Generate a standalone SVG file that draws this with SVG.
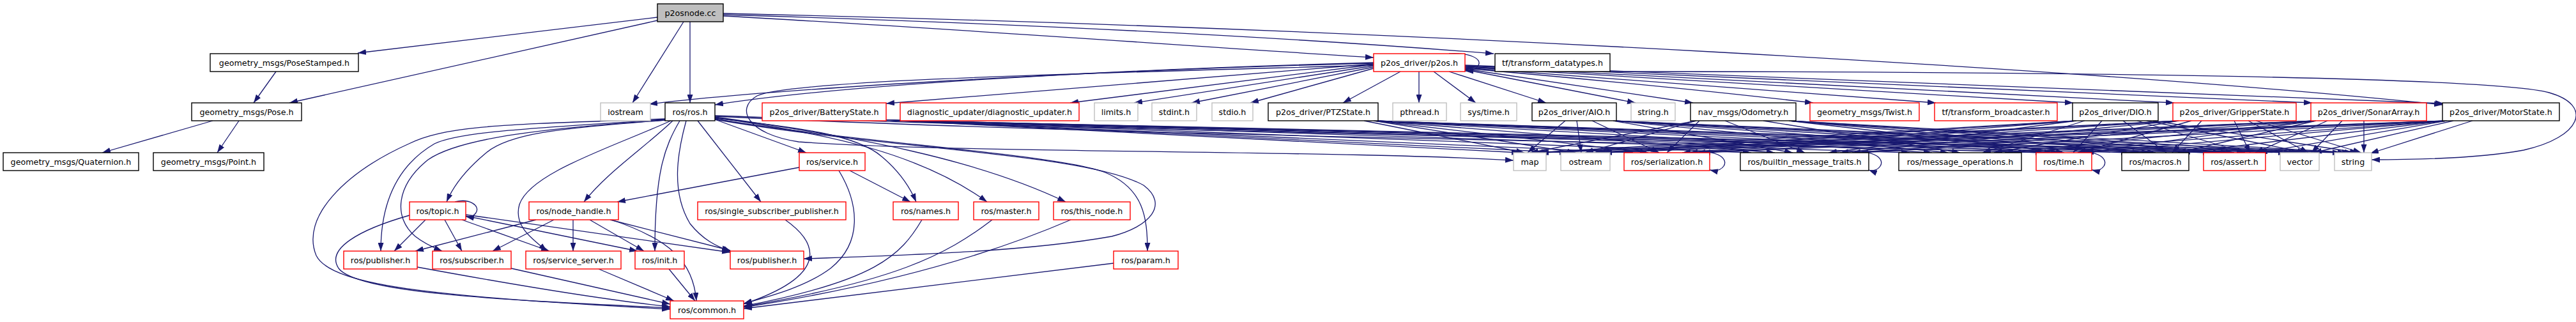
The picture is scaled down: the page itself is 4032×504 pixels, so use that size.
<svg xmlns="http://www.w3.org/2000/svg" width="4032" height="504" viewBox="0 0 4032 504">
<style>
.e{fill:none;stroke:#191970;stroke-width:1.3;marker-end:url(#a)}
.n rect{fill:#fff;stroke-width:1.4}
.k rect{stroke:#000}
.r rect{stroke:#ff0000}
.g rect{stroke:#bfbfbf}
text{font-family:"DejaVu Sans","Liberation Sans",sans-serif;font-size:12.7px;fill:#000;text-anchor:middle}
</style>
<defs>
<marker id="a" viewBox="0 0 13 9" refX="13" refY="4.5" markerWidth="13" markerHeight="9" markerUnits="userSpaceOnUse" orient="auto">
<path d="M0,0 L13,4.5 L0,9 z" fill="#191970"/>
</marker>
</defs>
<rect width="4032" height="504" fill="#fff"/>
<g id="edges">
<path class="e" d="M1029,27 L560,83"/>
<path class="e" d="M1029,32 L453,161"/>
<path class="e" d="M1070,34 L990,161"/>
<path class="e" d="M1080,34 L1080,161"/>
<path class="e" d="M1132,25 C1500,45 1900,75 2150,90"/>
<path class="e" d="M1132,23 C1700,40 2100,65 2338,84"/>
<path class="e" d="M1132,21 C2200,45 3300,110 3823,164"/>
<path class="e" d="M2520,112 C3200,112 3900,120 3990,145 C4060,165 4040,215 3950,235 C3880,248 3780,250 3712,250"/>
<path class="e" d="M432,112 L397,161"/>
<path class="e" d="M333,189 L160,239"/>
<path class="e" d="M374,189 L340,239"/>
<path class="e" d="M2268,84 C2300,82 2320,92 2314,102 C2310,110 2302,111 2293,111"/>
<path class="e" d="M2192,112 L2102,161"/>
<path class="e" d="M2221,112 L2221,161"/>
<path class="e" d="M2244,112 L2310,161"/>
<path class="e" d="M2268,112 L2420,161"/>
<path class="e" d="M2293,109 L2560,161"/>
<path class="e" d="M2293,108 L2650,161"/>
<path class="e" d="M2293,107 C2500,125 2700,145 2838,161"/>
<path class="e" d="M2293,106 L3030,161"/>
<path class="e" d="M2293,105 L3245,161"/>
<path class="e" d="M2293,104 L3403,161"/>
<path class="e" d="M2293,103 L3619,161"/>
<path class="e" d="M2293,102 L3825,162"/>
<path class="e" d="M2150,100 L1387,162"/>
<path class="e" d="M2150,101 L1675,161"/>
<path class="e" d="M2150,103 L1775,161"/>
<path class="e" d="M2150,105 L1865,161"/>
<path class="e" d="M2150,107 L1957,161"/>
<path class="e" d="M2150,98 C1700,110 1300,135 1119,164"/>
<path class="e" d="M2150,99 C1700,110 1200,140 1016,163"/>
<path class="e" d="M2150,102 C1700,115 1240,125 1185,150 C1150,170 1170,210 1250,222 C1500,240 2100,235 2369,251"/>
<path class="e" d="M1041,186 C800,195 700,195 640,225 C540,270 470,340 495,400 C520,450 700,465 1049,484"/>
<path class="e" d="M1041,187 C850,200 720,205 680,225 C620,260 596,320 596,393"/>
<path class="e" d="M1041,188 C860,200 720,215 670,250 C620,290 615,340 650,370 C665,382 680,388 692,393"/>
<path class="e" d="M1041,188 C900,200 800,205 760,240 C730,265 710,290 699,316"/>
<path class="e" d="M1053,189 C1010,230 950,270 914,316"/>
<path class="e" d="M1050,189 C960,230 830,270 813,320 C803,355 835,375 856,393"/>
<path class="e" d="M1064,189 C1040,230 1025,270 1025,393"/>
<path class="e" d="M1074,189 C1060,240 1050,300 1080,350 C1100,375 1120,385 1145,394"/>
<path class="e" d="M1092,189 L1191,316"/>
<path class="e" d="M1119,187 L1262,239"/>
<path class="e" d="M1119,185 C1250,200 1340,210 1380,245 C1410,270 1425,295 1434,316"/>
<path class="e" d="M1119,184 C1300,210 1440,240 1545,316"/>
<path class="e" d="M1119,183 C1350,215 1530,250 1668,316"/>
<path class="e" d="M1119,186 C1350,225 1650,240 1730,270 C1790,295 1796,340 1796,393"/>
<path class="e" d="M1119,187 C1400,235 1700,240 1790,290 C1830,320 1800,355 1740,370 C1600,395 1400,400 1258,405"/>
<path class="e" d="M1119,182 C1800,215 2800,225 3199,239"/>
<path class="e" d="M1119,181 C1900,210 3000,225 3461,239"/>
<path class="e" d="M712,316 C735,310 752,322 745,333 C740,340 735,340 729,339"/>
<path class="e" d="M666,344 L617,393"/>
<path class="e" d="M696,344 L723,393"/>
<path class="e" d="M723,344 L860,393"/>
<path class="e" d="M729,338 L998,393"/>
<path class="e" d="M729,336 L1143,395"/>
<path class="e" d="M641,337 C560,360 510,390 530,420 C560,460 800,470 1049,482"/>
<path class="e" d="M839,344 L650,393"/>
<path class="e" d="M867,344 L771,393"/>
<path class="e" d="M897,344 L897,393"/>
<path class="e" d="M923,344 L1008,393"/>
<path class="e" d="M955,344 L1143,392"/>
<path class="e" d="M957,344 C1050,375 1085,410 1090,471"/>
<path class="e" d="M1251,262 L966,316"/>
<path class="e" d="M1330,267 L1425,316"/>
<path class="e" d="M1313,267 C1345,320 1350,380 1300,420 C1260,450 1200,465 1164,475"/>
<path class="e" d="M1229,344 C1280,380 1300,430 1164,476"/>
<path class="e" d="M1443,344 C1410,400 1370,440 1164,479"/>
<path class="e" d="M1553,344 C1480,400 1400,440 1164,480"/>
<path class="e" d="M1676,344 C1500,420 1300,460 1164,481"/>
<path class="e" d="M1743,412 C1500,440 1300,465 1164,483"/>
<path class="e" d="M800,420 L1049,476"/>
<path class="e" d="M937,421 L1055,471"/>
<path class="e" d="M1047,421 L1088,471"/>
<path class="e" d="M653,418 C800,445 950,470 1049,480"/>
<path class="e" d="M2660,239 C2690,235 2705,250 2698,260 C2693,267 2685,268 2676,266"/>
<path class="e" d="M2905,239 C2935,235 2950,250 2943,260 C2938,267 2930,268 2925,266"/>
<path class="e" d="M3255,239 C3285,235 3300,250 3293,260 C3288,267 3282,268 3274,266"/>
<path class="e" d="M1387,188 L2379,239"/>
<path class="e" d="M1387,188 L2454,239"/>
<path class="e" d="M1387,188 L2556,239"/>
<path class="e" d="M1387,188 L2741,239"/>
<path class="e" d="M1387,188 L2989,239"/>
<path class="e" d="M1387,188 L3199,239"/>
<path class="e" d="M1387,188 L3333,239"/>
<path class="e" d="M1387,188 L3461,239"/>
<path class="e" d="M1387,188 L3579,239"/>
<path class="e" d="M1387,188 L3664,239"/>
<path class="e" d="M2135,189 L2386,239"/>
<path class="e" d="M2150,189 L2466,239"/>
<path class="e" d="M2150,189 L2580,239"/>
<path class="e" d="M2150,189 L2778,239"/>
<path class="e" d="M2150,189 L3024,239"/>
<path class="e" d="M2150,189 L3213,239"/>
<path class="e" d="M2150,189 L3351,239"/>
<path class="e" d="M2150,189 L3477,239"/>
<path class="e" d="M2150,189 L3588,239"/>
<path class="e" d="M2150,189 L3672,239"/>
<path class="e" d="M2450,189 L2391,239"/>
<path class="e" d="M2468,189 L2475,239"/>
<path class="e" d="M2492,189 L2597,239"/>
<path class="e" d="M2525,189 L2806,239"/>
<path class="e" d="M2525,189 L3050,239"/>
<path class="e" d="M2525,189 L3223,239"/>
<path class="e" d="M2525,189 L3365,239"/>
<path class="e" d="M2525,189 L3489,239"/>
<path class="e" d="M2525,189 L3595,239"/>
<path class="e" d="M2525,189 L3679,239"/>
<path class="e" d="M2655,189 L2395,239"/>
<path class="e" d="M2655,189 L2481,239"/>
<path class="e" d="M2660,189 L2609,239"/>
<path class="e" d="M2700,189 L2825,239"/>
<path class="e" d="M2760,189 L3068,239"/>
<path class="e" d="M2800,189 L3231,239"/>
<path class="e" d="M2800,189 L3374,239"/>
<path class="e" d="M2800,189 L3497,239"/>
<path class="e" d="M2800,189 L3600,239"/>
<path class="e" d="M2800,189 L3683,239"/>
<path class="e" d="M3250,189 L2402,239"/>
<path class="e" d="M3250,189 L2494,239"/>
<path class="e" d="M3250,189 L2633,239"/>
<path class="e" d="M3250,189 L2862,239"/>
<path class="e" d="M3263,189 L3103,239"/>
<path class="e" d="M3290,189 L3245,239"/>
<path class="e" d="M3323,189 L3391,239"/>
<path class="e" d="M3345,189 L3514,239"/>
<path class="e" d="M3360,189 L3609,239"/>
<path class="e" d="M3370,189 L3691,239"/>
<path class="e" d="M3410,189 L2405,239"/>
<path class="e" d="M3410,189 L2500,239"/>
<path class="e" d="M3410,189 L2644,239"/>
<path class="e" d="M3410,189 L2880,239"/>
<path class="e" d="M3410,189 L3121,239"/>
<path class="e" d="M3430,189 L3252,239"/>
<path class="e" d="M3446,189 L3400,239"/>
<path class="e" d="M3497,189 L3522,239"/>
<path class="e" d="M3519,189 L3613,239"/>
<path class="e" d="M3531,189 L3696,239"/>
<path class="e" d="M3625,189 L2409,239"/>
<path class="e" d="M3625,189 L2506,239"/>
<path class="e" d="M3625,189 L2656,239"/>
<path class="e" d="M3625,189 L2899,239"/>
<path class="e" d="M3625,189 L3138,239"/>
<path class="e" d="M3625,189 L3259,239"/>
<path class="e" d="M3625,189 L3409,239"/>
<path class="e" d="M3643,189 L3530,239"/>
<path class="e" d="M3666,189 L3618,239"/>
<path class="e" d="M3700,189 L3700,239"/>
<path class="e" d="M3830,189 L2411,239"/>
<path class="e" d="M3830,189 L2510,239"/>
<path class="e" d="M3830,189 L2664,239"/>
<path class="e" d="M3830,189 L2911,239"/>
<path class="e" d="M3830,189 L3151,239"/>
<path class="e" d="M3830,189 L3264,239"/>
<path class="e" d="M3830,189 L3415,239"/>
<path class="e" d="M3830,189 L3536,239"/>
<path class="e" d="M3840,189 L3621,239"/>
<path class="e" d="M3870,189 L3710,240"/>
</g>
<g id="n0" class="n k"><rect x="1029" y="6" width="103" height="28" style="fill:#bfbfbf"/><text x="1080.5" y="24.5">p2osnode.cc</text></g>
<g id="n1" class="n k"><rect x="329" y="84" width="232" height="28"/><text x="445" y="102.5">geometry_msgs/PoseStamped.h</text></g>
<g id="n2" class="n k"><rect x="300" y="161" width="172" height="28"/><text x="386" y="179.5">geometry_msgs/Pose.h</text></g>
<g id="n3" class="n k"><rect x="5" y="239" width="212" height="28"/><text x="111" y="257.5">geometry_msgs/Quaternion.h</text></g>
<g id="n4" class="n k"><rect x="240" y="239" width="173" height="28"/><text x="326.5" y="257.5">geometry_msgs/Point.h</text></g>
<g id="n5" class="n g"><rect x="940" y="161" width="78" height="28"/><text x="979" y="179.5">iostream</text></g>
<g id="n6" class="n k"><rect x="1041" y="161" width="78" height="28"/><text x="1080" y="179.5">ros/ros.h</text></g>
<g id="n7" class="n r"><rect x="2150" y="84" width="143" height="28"/><text x="2221.5" y="102.5">p2os_driver/p2os.h</text></g>
<g id="n8" class="n k"><rect x="2340" y="84" width="180" height="28"/><text x="2430" y="102.5">tf/transform_datatypes.h</text></g>
<g id="n9" class="n r"><rect x="1193" y="161" width="194" height="28"/><text x="1290" y="179.5">p2os_driver/BatteryState.h</text></g>
<g id="n10" class="n r"><rect x="1409" y="161" width="280" height="28"/><text x="1549" y="179.5">diagnostic_updater/diagnostic_updater.h</text></g>
<g id="n11" class="n g"><rect x="1713" y="161" width="68" height="28"/><text x="1747" y="179.5">limits.h</text></g>
<g id="n12" class="n g"><rect x="1803" y="161" width="70" height="28"/><text x="1838" y="179.5">stdint.h</text></g>
<g id="n13" class="n g"><rect x="1897" y="161" width="64" height="28"/><text x="1929" y="179.5">stdio.h</text></g>
<g id="n14" class="n k"><rect x="1985" y="161" width="172" height="28"/><text x="2071" y="179.5">p2os_driver/PTZState.h</text></g>
<g id="n15" class="n g"><rect x="2180" y="161" width="84" height="28"/><text x="2222" y="179.5">pthread.h</text></g>
<g id="n16" class="n g"><rect x="2286" y="161" width="88" height="28"/><text x="2330" y="179.5">sys/time.h</text></g>
<g id="n17" class="n k"><rect x="2398" y="161" width="132" height="28"/><text x="2464" y="179.5">p2os_driver/AIO.h</text></g>
<g id="n18" class="n g"><rect x="2553" y="161" width="69" height="28"/><text x="2587.5" y="179.5">string.h</text></g>
<g id="n19" class="n k"><rect x="2646" y="161" width="165" height="28"/><text x="2728.5" y="179.5">nav_msgs/Odometry.h</text></g>
<g id="n20" class="n r"><rect x="2833" y="161" width="171" height="28"/><text x="2918.5" y="179.5">geometry_msgs/Twist.h</text></g>
<g id="n21" class="n r"><rect x="3028" y="161" width="192" height="28"/><text x="3124" y="179.5">tf/transform_broadcaster.h</text></g>
<g id="n22" class="n k"><rect x="3244" y="161" width="134" height="28"/><text x="3311" y="179.5">p2os_driver/DIO.h</text></g>
<g id="n23" class="n r"><rect x="3401" y="161" width="193" height="28"/><text x="3497.5" y="179.5">p2os_driver/GripperState.h</text></g>
<g id="n24" class="n r"><rect x="3617" y="161" width="181" height="28"/><text x="3707.5" y="179.5">p2os_driver/SonarArray.h</text></g>
<g id="n25" class="n k"><rect x="3823" y="161" width="183" height="28"/><text x="3914.5" y="179.5">p2os_driver/MotorState.h</text></g>
<g id="n26" class="n r"><rect x="1251" y="239" width="103" height="28"/><text x="1302.5" y="257.5">ros/service.h</text></g>
<g id="n27" class="n g"><rect x="2369" y="239" width="51" height="28"/><text x="2394.5" y="257.5">map</text></g>
<g id="n28" class="n g"><rect x="2443" y="239" width="77" height="28"/><text x="2481.5" y="257.5">ostream</text></g>
<g id="n29" class="n r"><rect x="2542" y="239" width="134" height="28"/><text x="2609" y="257.5">ros/serialization.h</text></g>
<g id="n30" class="n k"><rect x="2724" y="239" width="201" height="28"/><text x="2824.5" y="257.5">ros/builtin_message_traits.h</text></g>
<g id="n31" class="n k"><rect x="2972" y="239" width="192" height="28"/><text x="3068" y="257.5">ros/message_operations.h</text></g>
<g id="n32" class="n r"><rect x="3187" y="239" width="87" height="28"/><text x="3230.5" y="257.5">ros/time.h</text></g>
<g id="n33" class="n k"><rect x="3321" y="239" width="105" height="28"/><text x="3373.5" y="257.5">ros/macros.h</text></g>
<g id="n34" class="n r"><rect x="3449" y="239" width="97" height="28"/><text x="3497.5" y="257.5">ros/assert.h</text></g>
<g id="n35" class="n g"><rect x="3569" y="239" width="61" height="28"/><text x="3599.5" y="257.5">vector</text></g>
<g id="n36" class="n g"><rect x="3654" y="239" width="58" height="28"/><text x="3683" y="257.5">string</text></g>
<g id="n37" class="n r"><rect x="641" y="316" width="88" height="28"/><text x="685" y="334.5">ros/topic.h</text></g>
<g id="n38" class="n r"><rect x="828" y="316" width="140" height="28"/><text x="898" y="334.5">ros/node_handle.h</text></g>
<g id="n39" class="n r"><rect x="1092" y="316" width="232" height="28"/><text x="1208" y="334.5">ros/single_subscriber_publisher.h</text></g>
<g id="n40" class="n r"><rect x="1398" y="316" width="102" height="28"/><text x="1449" y="334.5">ros/names.h</text></g>
<g id="n41" class="n r"><rect x="1524" y="316" width="102" height="28"/><text x="1575" y="334.5">ros/master.h</text></g>
<g id="n42" class="n r"><rect x="1649" y="316" width="120" height="28"/><text x="1709" y="334.5">ros/this_node.h</text></g>
<g id="n43" class="n r"><rect x="538" y="393" width="115" height="28"/><text x="595.5" y="411.5">ros/publisher.h</text></g>
<g id="n44" class="n r"><rect x="677" y="393" width="123" height="28"/><text x="738.5" y="411.5">ros/subscriber.h</text></g>
<g id="n45" class="n r"><rect x="823" y="393" width="149" height="28"/><text x="897.5" y="411.5">ros/service_server.h</text></g>
<g id="n46" class="n r"><rect x="994" y="393" width="77" height="28"/><text x="1032.5" y="411.5">ros/init.h</text></g>
<g id="n47" class="n r"><rect x="1143" y="393" width="115" height="28"/><text x="1200.5" y="411.5">ros/publisher.h</text></g>
<g id="n48" class="n r"><rect x="1743" y="393" width="101" height="28"/><text x="1793.5" y="411.5">ros/param.h</text></g>
<g id="n49" class="n r"><rect x="1049" y="471" width="115" height="28"/><text x="1106.5" y="489.5">ros/common.h</text></g>
</svg>
